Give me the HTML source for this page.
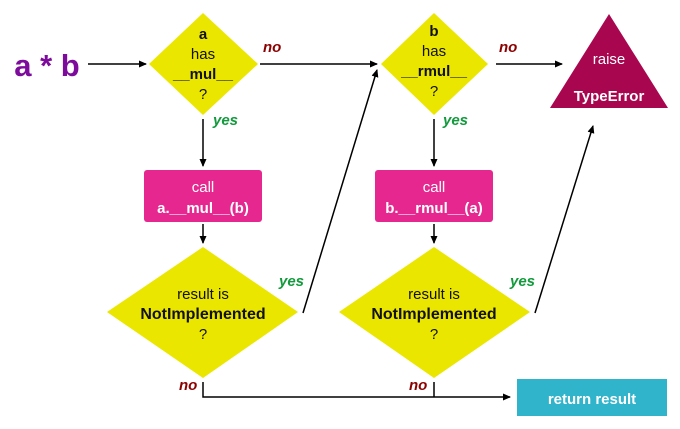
<!DOCTYPE html>
<html><head><style>body{margin:0;background:#fff}svg{display:block}</style></head><body>
<svg width="680" height="429" viewBox="0 0 680 429" xmlns="http://www.w3.org/2000/svg" font-family="Liberation Sans, DejaVu Sans, sans-serif">
<defs><marker id="ar" markerWidth="8" markerHeight="8" refX="7" refY="4" orient="auto" markerUnits="userSpaceOnUse"><path d="M0,0.5 L8,4 L0,7.5z" fill="#000"/></marker></defs>
<g stroke="#000" stroke-width="1.5" fill="none">
<line x1="88" y1="64" x2="146" y2="64" marker-end="url(#ar)"/>
<line x1="260" y1="64" x2="377" y2="64" marker-end="url(#ar)"/>
<line x1="496" y1="64" x2="562" y2="64" marker-end="url(#ar)"/>
<line x1="203" y1="119" x2="203" y2="166" marker-end="url(#ar)"/>
<line x1="434" y1="119" x2="434" y2="166" marker-end="url(#ar)"/>
<line x1="203" y1="224" x2="203" y2="243" marker-end="url(#ar)"/>
<line x1="434" y1="224" x2="434" y2="243" marker-end="url(#ar)"/>
<line x1="303" y1="313" x2="377" y2="70" marker-end="url(#ar)"/>
<line x1="535" y1="313" x2="593" y2="126" marker-end="url(#ar)"/>
<polyline points="203,382 203,397 510,397" marker-end="url(#ar)"/>
<line x1="434" y1="382" x2="434" y2="397"/>
</g>
<polygon points="203,13 258,64 203,115 149,64" fill="#ebe600"/>
<polygon points="434,13 488,64 434,115 381,64" fill="#ebe600"/>
<polygon points="203,247 298,312 203,378 107,312" fill="#ebe600"/>
<polygon points="434,247 530,312 434,378 339,312" fill="#ebe600"/>
<polygon points="609,14 668,108 550,108" fill="#a8064f"/>
<rect x="144" y="170" width="118" height="52" rx="3" fill="#e6278f"/>
<rect x="375" y="170" width="118" height="52" rx="3" fill="#e6278f"/>
<rect x="517" y="379" width="150" height="37" fill="#2fb4cc"/>
<text x="47" y="76" font-size="31" font-weight="bold" fill="#7d0c9c" text-anchor="middle">a * b</text>
<g text-anchor="middle" font-size="15" fill="#111">
<text x="203" y="39" font-weight="bold">a</text><text x="203" y="59">has</text><text x="203" y="79" font-weight="bold">__mul__</text><text x="203" y="99">?</text>
<text x="434" y="36" font-weight="bold">b</text><text x="434" y="56">has</text><text x="434" y="76" font-weight="bold">__rmul__</text><text x="434" y="96">?</text>
<text x="203" y="299">result is</text><text x="203" y="319" font-weight="bold" font-size="16">NotImplemented</text><text x="203" y="339">?</text>
<text x="434" y="299">result is</text><text x="434" y="319" font-weight="bold" font-size="16">NotImplemented</text><text x="434" y="339">?</text>
</g>
<g text-anchor="middle" font-size="15" fill="#fff">
<text x="203" y="192">call</text><text x="203" y="213" font-weight="bold">a.__mul__(b)</text>
<text x="434" y="192">call</text><text x="434" y="213" font-weight="bold">b.__rmul__(a)</text>
<text x="609" y="64">raise</text><text x="609" y="101" font-weight="bold">TypeError</text>
<text x="592" y="404" font-weight="bold" font-size="15">return result</text>
</g>
<g font-size="15" font-weight="bold" font-style="italic">
<text x="263" y="52" fill="#8b0000">no</text>
<text x="499" y="52" fill="#8b0000">no</text>
<text x="213" y="125" fill="#129a3c">yes</text>
<text x="443" y="125" fill="#129a3c">yes</text>
<text x="279" y="286" fill="#129a3c">yes</text>
<text x="510" y="286" fill="#129a3c">yes</text>
<text x="179" y="390" fill="#8b0000">no</text>
<text x="409" y="390" fill="#8b0000">no</text>
</g>
</svg>
</body></html>
